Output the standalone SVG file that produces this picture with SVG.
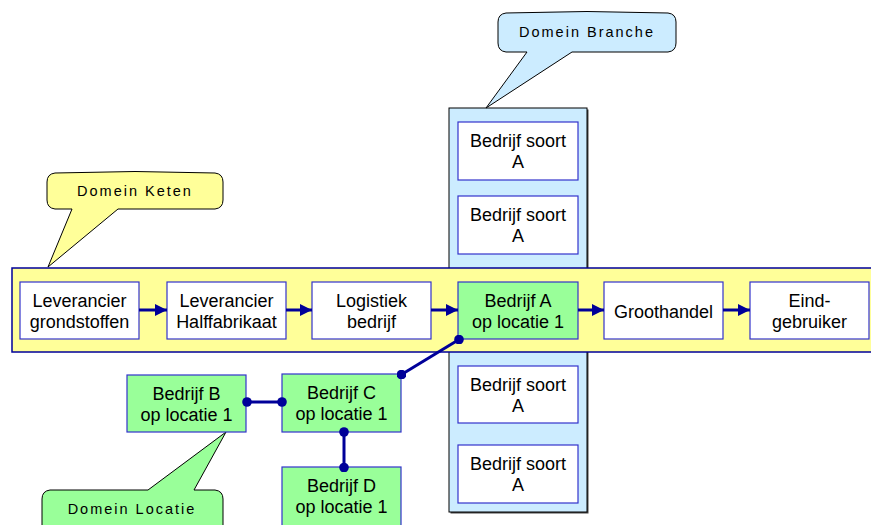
<svg xmlns="http://www.w3.org/2000/svg" width="871" height="525" viewBox="0 0 871 525">
<defs>
<style>
.box{fill:#fff;stroke:#3333cc;stroke-width:1.2}
.green{fill:#99ff99;stroke:#3333cc;stroke-width:1.2}
.t{font-family:"Liberation Sans",Arial,sans-serif;font-size:18px;fill:#000;text-anchor:middle}
.ct{font-family:"Liberation Sans",Arial,sans-serif;font-size:14.5px;fill:#000;text-anchor:middle;letter-spacing:2px}
.arr{stroke:#000099;stroke-width:3;fill:none;marker-end:url(#ah)}
.lnk{stroke:#000099;stroke-width:3;fill:none;marker-start:url(#dot);marker-end:url(#dot)}
.call{stroke:#000;stroke-width:1}
</style>
<marker id="ah" viewBox="0 0 10 10" refX="10" refY="5" markerWidth="4.2" markerHeight="4" orient="auto" markerUnits="strokeWidth">
<path d="M0,0 L10,5 L0,10 Z" fill="#000099"/>
</marker>
<marker id="dot" viewBox="0 0 10 10" refX="5" refY="5" markerWidth="3.2" markerHeight="3.2" markerUnits="strokeWidth">
<circle cx="5" cy="5" r="5" fill="#000099"/>
</marker>
</defs>

<g id="branche-column">
<rect x="450.5" y="109.5" width="138" height="404" fill="#444"/>
<rect x="449" y="108" width="138" height="404" fill="#ccecff" stroke="#000" stroke-width="1"/>
</g>
<g id="keten-band">
<rect x="12" y="268" width="870" height="84" fill="#ffff99" stroke="#000099" stroke-width="1.5"/>
</g>

<g id="callout-branche">
<path class="call" fill="#ccecff" d="M506,13 Q587,10 668,13 Q676,14 676,22 L676,43 Q676,51 668,52 L572,52 L486,108 L527,52 L506,52 Q498,51 498,43 L498,22 Q498,14 506,13 Z"/>
<text class="ct" x="587" y="37">Domein Branche</text>
</g>
<g id="callout-keten">
<path class="call" fill="#ffff99" d="M55,173 Q135,170 215,173 Q223,174 223,182 L223,200 Q223,208 215,209 L118,209 L48,267 L72,209 L55,209 Q47,208 47,200 L47,182 Q47,174 55,173 Z"/>
<text class="ct" x="135" y="196">Domein Keten</text>
</g>
<g id="callout-locatie">
<path class="call" fill="#99ff99" d="M50,490 L148,490 L226,432 L194,490 L215,490 Q223,491 223,499 L223,530 L42,530 L42,499 Q42,491 50,490 Z"/>
<text class="ct" x="132" y="514">Domein Locatie</text>
</g>

<g id="n-lev-grond"><rect class="box" x="20" y="282" width="119" height="57"/><text class="t" x="79.5" y="306.5">Leverancier</text><text class="t" x="79.5" y="328">grondstoffen</text></g>
<g id="n-lev-half"><rect class="box" x="167" y="282" width="119" height="57"/><text class="t" x="226.5" y="306.5">Leverancier</text><text class="t" x="226.5" y="328">Halffabrikaat</text></g>
<g id="n-logistiek"><rect class="box" x="312" y="282" width="119" height="57"/><text class="t" x="371.5" y="306.5">Logistiek</text><text class="t" x="371.5" y="328">bedrijf</text></g>
<g id="n-bedrijf-a"><rect class="green" x="458" y="282" width="120" height="57"/><text class="t" x="518" y="306.5">Bedrijf A</text><text class="t" x="518" y="328">op locatie 1</text></g>
<g id="n-groothandel"><rect class="box" x="604" y="282" width="119" height="57"/><text class="t" x="663.5" y="318">Groothandel</text></g>
<g id="n-eind"><rect class="box" x="750" y="282" width="119" height="57"/><text class="t" x="809.5" y="306.5">Eind-</text><text class="t" x="809.5" y="328">gebruiker</text></g>

<g id="n-soort1"><rect class="box" x="458" y="122" width="120" height="58"/><text class="t" x="518" y="146.5">Bedrijf soort</text><text class="t" x="518" y="168">A</text></g>
<g id="n-soort2"><rect class="box" x="458" y="196" width="120" height="58"/><text class="t" x="518" y="220.5">Bedrijf soort</text><text class="t" x="518" y="242">A</text></g>
<g id="n-soort3"><rect class="box" x="458" y="366" width="120" height="57"/><text class="t" x="518" y="390.5">Bedrijf soort</text><text class="t" x="518" y="412">A</text></g>
<g id="n-soort4"><rect class="box" x="458" y="445" width="120" height="58"/><text class="t" x="518" y="469.5">Bedrijf soort</text><text class="t" x="518" y="491">A</text></g>

<g id="n-bedrijf-b"><rect class="green" x="127" y="375" width="119" height="57"/><text class="t" x="186.5" y="399.5">Bedrijf B</text><text class="t" x="186.5" y="421">op locatie 1</text></g>
<g id="n-bedrijf-c"><rect class="green" x="282" y="374" width="119" height="58"/><text class="t" x="341.5" y="398.5">Bedrijf C</text><text class="t" x="341.5" y="420">op locatie 1</text></g>
<g id="n-bedrijf-d"><rect class="green" x="282" y="467" width="119" height="60"/><text class="t" x="341.5" y="491.5">Bedrijf D</text><text class="t" x="341.5" y="513">op locatie 1</text></g>

<g id="connectors">
<line class="arr" x1="139" y1="310" x2="167" y2="310"/>
<line class="arr" x1="286" y1="310" x2="312" y2="310"/>
<line class="arr" x1="431" y1="310" x2="458" y2="310"/>
<line class="arr" x1="578" y1="310" x2="604" y2="310"/>
<line class="arr" x1="723" y1="310" x2="750" y2="310"/>
<line class="lnk" x1="247" y1="402" x2="282" y2="402"/>
<line class="lnk" x1="401.5" y1="374.5" x2="459" y2="339.5"/>
<line class="lnk" x1="344" y1="432" x2="344" y2="467.5"/>
</g>
</svg>
